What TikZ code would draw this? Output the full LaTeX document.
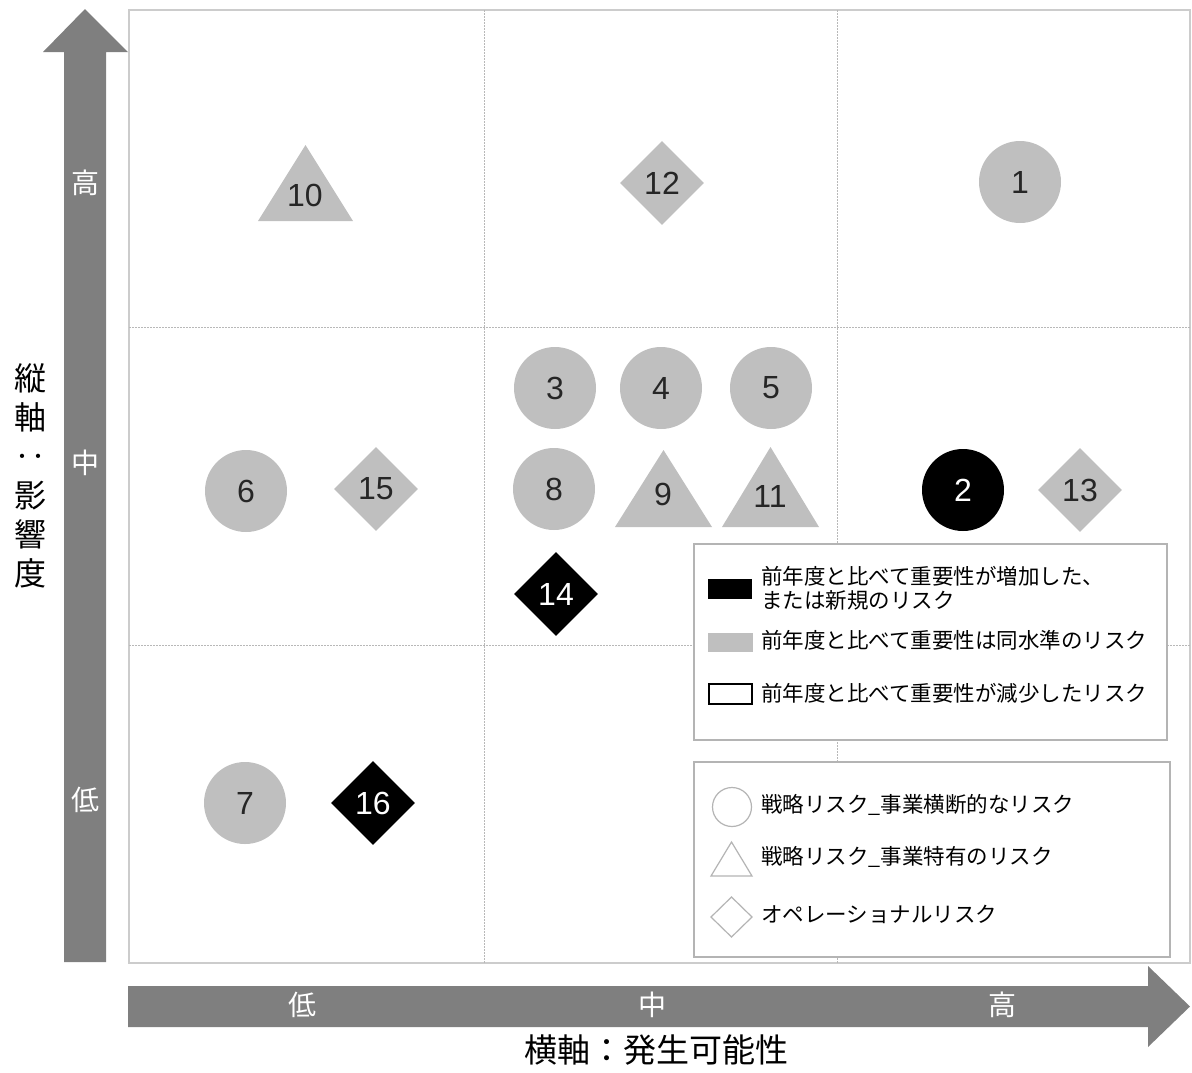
\documentclass[tikz,border=0pt]{standalone}
\usepackage{fontspec}
\setmainfont{Liberation Sans}
\newfontfamily\jp{Noto Sans CJK JP}
\usetikzlibrary{shapes.geometric}
\definecolor{arrowgray}{HTML}{7F7F7F}
\definecolor{shapegray}{HTML}{BFBFBF}
\definecolor{gridgray}{HTML}{CCCCCC}
\definecolor{dotgray}{HTML}{B8B8B8}
\definecolor{legborder}{HTML}{B4B4B4}
\tikzset{
  numtxt/.style={font=\fontsize{32}{32}\selectfont, inner sep=0pt},
  gcirc/.style={circle, fill=shapegray, minimum size=82pt, inner sep=0pt, font=\fontsize{32}{32}\selectfont, text=black!85},
  bcirc/.style={gcirc, fill=black, text=white},
  gdia/.style={diamond, fill=shapegray, minimum width=84pt, minimum height=84pt, inner sep=0pt, font=\fontsize{32}{32}\selectfont, text=black!85},
  bdia/.style={gdia, fill=black, text=white},
  axlab/.style={font=\jp\fontsize{28}{28}\selectfont, text=white, inner sep=0pt},
  legtxt/.style={font=\jp\fontsize{21.5}{24}\selectfont, anchor=west, inner sep=0pt, align=left},
  legbox/.style={draw=legborder, line width=1.2pt, fill=white},
  gridline/.style={draw=dotgray, dash pattern=on 1.5pt off 1.5pt, line width=1pt},
}
\begin{document}
\begin{tikzpicture}[x=1pt, y=-1pt]
\useasboundingbox (0,0) rectangle (1192,1072);
% grid
\draw[gridgray, line width=1.5pt] (129,10) rectangle (1190,963);
\draw[gridline] (484,10) -- (484,963);
\draw[gridline] (837,10) -- (837,963);
\draw[gridline] (129,327) -- (1190,327);
\draw[gridline] (129,645) -- (1190,645);
% vertical arrow
\fill[arrowgray] (64,962) -- (64,52) -- (43,52) -- (85,9) -- (128,52) -- (106,52) -- (106,962) -- cycle;
\node[axlab] (vh) at (85,183) {高};
\node[axlab] (vm) at (85,463) {中};
\node[axlab] (vl) at (85,800) {低};
% horizontal arrow
\fill[arrowgray] (128,986) -- (1148,986) -- (1148,966) -- (1190,1006.5) -- (1148,1047) -- (1148,1027) -- (128,1027) -- cycle;
\node[axlab] (hl) at (302,1005) {低};
\node[axlab] (hm) at (652,1005) {中};
\node[axlab] (hh) at (1002,1005) {高};
% axis titles
\node[font=\jp\fontsize{33}{33}\selectfont, inner sep=0pt] (xtitle) at (656,1050) {横軸：発生可能性};
\node[font=\jp\fontsize{32}{39}\selectfont, inner sep=0pt, align=center] (ytitle) at (30,476) {縦\\軸\\‥\\影\\響\\度};
% risks - circles
\node[gcirc] (r1) at (1020,182) {1};
\node[bcirc] (r2) at (963,490) {2};
\node[gcirc] (r3) at (555,388) {3};
\node[gcirc] (r4) at (661,388) {4};
\node[gcirc] (r5) at (771,388) {5};
\node[gcirc] (r6) at (246,491) {6};
\node[gcirc] (r7) at (245,803) {7};
\node[gcirc] (r8) at (554,489) {8};
% diamonds
\node[gdia] (r12) at (662,183) {12};
\node[gdia] (r13) at (1080,490) {13};
\node[bdia] (r14) at (556,594) {14};
\node[gdia] (r15) at (376,489) {15};
\node[bdia] (r16) at (373,803) {16};
% triangles
\fill[shapegray] (258,221) -- (305.5,145) -- (353,221) -- cycle;
\node[numtxt, text=black!85] (r10) at (305,195) {10};
\fill[shapegray] (615,527) -- (663.5,450) -- (712,527) -- cycle;
\node[numtxt, text=black!85] (r9) at (663,494) {9};
\fill[shapegray] (722,527) -- (770.5,447) -- (819,527) -- cycle;
\node[numtxt, text=black!85] (r11) at (770,496) {11};
% legend 1
\draw[legbox] (694,544) rectangle (1167,740);
\fill[black] (708,579) rectangle (752,599);
\node[legtxt] (l1) at (761,588) {前年度と比べて重要性が増加した、\\または新規のリスク};
\fill[shapegray] (708,633) rectangle (753,652);
\node[legtxt] (l2) at (761,640) {前年度と比べて重要性は同水準のリスク};
\draw[black, line width=1.3pt, fill=white] (709,684) rectangle (752,704);
\node[legtxt] (l3) at (761,693) {前年度と比べて重要性が減少したリスク};
% legend 2
\draw[legbox] (694,762) rectangle (1170,957);
\draw[legborder, line width=1.2pt] (732,807) circle (19.5);
\node[legtxt] (s1) at (761,805) {戦略リスク\_事業横断的なリスク};
\draw[legborder, line width=1.2pt] (711,876) -- (731.5,842) -- (752,876) -- cycle;
\node[legtxt] (s2) at (761,857) {戦略リスク\_事業特有のリスク};
\draw[legborder, line width=1.2pt] (711,917) -- (731.5,897) -- (752,917) -- (731.5,937) -- cycle;
\node[legtxt] (s3) at (761,914) {オペレーショナルリスク};
\end{tikzpicture}
\end{document}
